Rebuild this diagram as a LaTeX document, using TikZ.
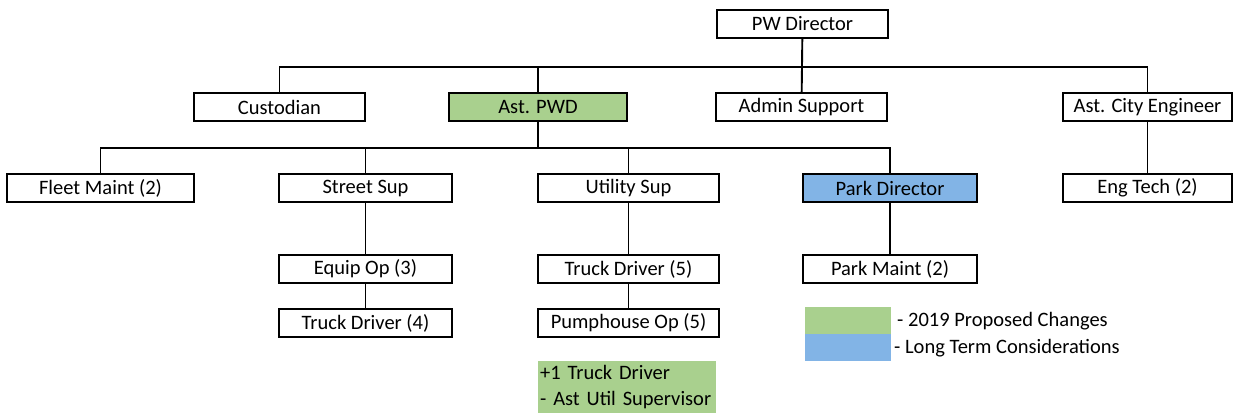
\documentclass[tikz,border=0pt]{standalone}
\usepackage{fontspec}
\setmainfont{Carlito}
\usepackage{tikz}
\usetikzlibrary{positioning}
\definecolor{chgreen}{RGB}{169,208,142}
\definecolor{ltblue}{RGB}{130,180,230}

\begin{document}
\begin{tikzpicture}[x=1pt,y=-1pt,
  box/.style={draw,line width=1.9pt,minimum height=28pt,inner sep=0pt,font=\fontsize{20.5}{22}\selectfont},
  link/.style={line width=1.9pt},
  legtext/.style={anchor=west,inner sep=0pt,font=\fontsize{20.5}{22}\selectfont}]
\useasboundingbox (0,0) rectangle (1233,412);
% level 1 and 2
\node[box,minimum width=171pt] (dir) at (802.5,24) {PW Director};
\node[box,minimum width=171pt] (cust) at (279.5,107) {Custodian};
\node[box,minimum width=178pt,fill=chgreen] (pwd) at (538,107) {Ast. PWD};
\node[box,minimum width=171pt] (admin) at (801.5,107) {Admin Support};
\node[box,minimum width=169pt] (ace) at (1147.5,107) {Ast. City Engineer};
% level 3
\node[box,minimum width=187pt] (fleet) at (100.5,188) {Fleet Maint (2)};
\node[box,minimum width=173pt] (street) at (365.5,188) {Street Sup};
\node[box,minimum width=181pt] (util) at (628.5,188) {Utility Sup};
\node[box,minimum width=174pt,fill=ltblue] (parkdir) at (890,188) {Park Director};
\node[box,minimum width=169pt] (engtech) at (1147.5,188) {Eng Tech (2)};
% level 4 and 5
\node[box,minimum width=173pt] (equip) at (365.5,269) {Equip Op (3)};
\node[box,minimum width=173pt] (truckA) at (365.5,323) {Truck Driver (4)};
\node[box,minimum width=181pt] (truckB) at (628.5,269) {Truck Driver (5)};
\node[box,minimum width=181pt] (pump) at (628.5,323) {Pumphouse Op (5)};
\node[box,minimum width=174pt] (parkmaint) at (890,269) {Park Maint (2)};
% connectors
\coordinate (bar1) at (802.5,67);
\coordinate (bar2) at (538,148);
\draw[link] (dir) -- (admin);
\draw[link] (cust.north) |- (bar1) -| (ace.north);
\draw[link] (pwd.north) -- (pwd.north |- bar1);
\draw[link] (pwd.south) -- (bar2);
\draw[link] (fleet.north) |- (bar2) -| (parkdir.north);
\foreach \n in {street,util}{\draw[link] (\n.north) -- (\n.north |- bar2);}
\draw[link] (street) -- (equip) -- (truckA);
\draw[link] (util) -- (truckB) -- (pump);
\draw[link] (parkdir) -- (parkmaint);
\draw[link] (ace) -- (engtech);
% note
\node[fill=chgreen,anchor=north west,minimum width=178pt,minimum height=60pt,inner sep=0pt] (note) at (538,361) {};
\node[anchor=north west,inner sep=0pt,text width=176pt,align=left,font=\fontsize{20.5}{26}\selectfont] (notetext) at (540,365)
  {+1 Truck Driver\\- Ast Util Supervisor};
% legend
\node[fill=chgreen,minimum width=86pt,minimum height=27pt,inner sep=0pt] (legG) at (848,320.5) {};
\node[fill=ltblue,minimum width=86pt,minimum height=27pt,inner sep=0pt,below=0pt of legG] (legB) {};
\node[legtext] (legGt) at (897,321) {- 2019 Proposed Changes};
\node[legtext] (legBt) at (894,348) {- Long Term Considerations};
\end{tikzpicture}
\end{document}
